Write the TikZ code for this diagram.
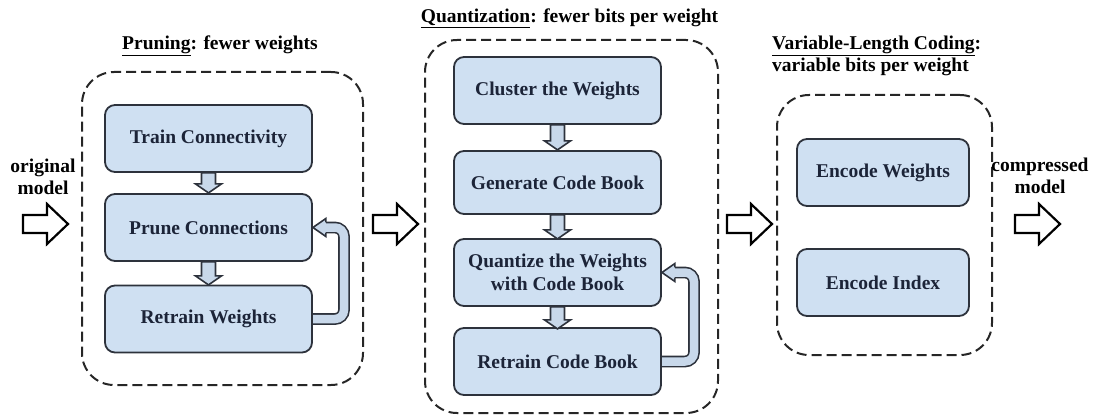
\documentclass[tikz,border=0pt]{standalone}
\usepackage{fontspec}
\setmainfont{Liberation Serif}
\usetikzlibrary{calc}

\definecolor{boxfill}{RGB}{207,224,242}
\definecolor{arrowfill}{RGB}{200,216,234}
\definecolor{edge}{RGB}{45,50,60}
\definecolor{ink}{RGB}{28,36,56}

\tikzset{
  stepbox/.style={draw=edge, line width=1.8pt, fill=boxfill, rounded corners=10pt,
    minimum width=207pt, minimum height=67pt, align=center, text=ink,
    font=\fontsize{19.5}{23}\selectfont\bfseries, inner sep=0pt},
  groupbox/.style={draw=black!85, line width=2pt, dash pattern=on 10pt off 5pt,
    rounded corners=32pt, inner sep=0pt},
  caption/.style={font=\fontsize{19.5}{22.5}\selectfont\bfseries, text=black,
    align=center, inner sep=0pt},
  smallarrow/.style={draw=edge, line width=1.6pt, fill=arrowfill, line join=miter},
  fatarrow/.style={draw=black, line width=2.2pt, fill=white, line join=miter},
  loopbody/.style={draw=edge, line width=1.6pt, double=arrowfill,
    double distance=8.5pt, rounded corners=9pt},
  pics/downarr/.style={code={
    \draw[smallarrow] (-7,0) -- (-7,#1-9) -- (-13,#1-9) -- (0,#1)
      -- (13,#1-9) -- (7,#1-9) -- (7,0) -- cycle;}},
  pics/bigarr/.style={code={
    \draw[fatarrow] (0,-9) -- (24,-9) -- (24,-20) -- (45,0) -- (24,20)
      -- (24,9) -- (0,9) -- cycle;}},
  pics/loophead/.style={code={
    \fill[arrowfill] (0,0) -- (13,-9) -- (13,9) -- cycle;
    \draw[draw=edge, line width=1.6pt, line join=miter]
      (13,-5.1) -- (13,-9) -- (0,0) -- (13,9) -- (13,5.1);}}
}

\begin{document}
\begin{tikzpicture}[x=1pt, y=-1pt]
\useasboundingbox (0,0) rectangle (1093,417);

% stage frames
\node[groupbox, minimum width=281pt, minimum height=313pt] (g1) at (222.5,228.5) {};
\node[groupbox, minimum width=293pt, minimum height=373pt] (g2) at (571.5,226.5) {};
\node[groupbox, minimum width=215pt, minimum height=260pt] (g3) at (884.5,225) {};

% stage titles
\node[caption] (t1) at (220,46) {\underline{Pruning}: fewer weights};
\node[caption] (t2) at (569.5,18) {\underline{Quantization}: fewer bits per weight};
\node[caption, anchor=west, align=left] (t3) at (772,56)
  {\underline{Variable-Length Coding}:\\variable bits per weight};

% input and output labels
\node[caption] (inlab) at (43,177) {original\\model};
\node[caption] (outlab) at (1040,176) {compressed\\model};

% feedback loops (bodies go under the boxes)
\coordinate (rwE) at (313,319);
\coordinate (pcE) at (313,227.5);
\draw[loopbody] (rwE) -- ++(31,0) |- ($(pcE)+(12,0)$);
\coordinate (rcE) at (662,361.5);
\coordinate (qwE) at (662,272.5);
\draw[loopbody] (rcE) -- ++(32,0) |- ($(qwE)+(12,0)$);

% pruning steps
\node[stepbox] (tc) at (208.5,138.5) {Train Connectivity};
\node[stepbox] (pc) at (208.5,227.5) {Prune Connections};
\node[stepbox] (rw) at (208.5,319) {Retrain Weights};

% quantization steps
\node[stepbox] (cw) at (557.5,90.5) {Cluster the Weights};
\node[stepbox, minimum height=63pt] (gc) at (557.5,182.5) {Generate Code Book};
\node[stepbox] (qw) at (557.5,272.5) {Quantize the Weights\\with Code Book};
\node[stepbox] (rc) at (557.5,361.5) {Retrain Code Book};

% coding steps
\node[stepbox, minimum width=172pt] (ew) at (883,172.5) {Encode Weights};
\node[stepbox, minimum width=172pt] (ei) at (883,282.5) {Encode Index};

% step-to-step arrows
\pic at (tc.south) {downarr=20};
\pic at (pc.south) {downarr=23};
\pic at (cw.south) {downarr=25};
\pic at (gc.south) {downarr=24};
\pic at (qw.south) {downarr=22};

% loop heads
\pic at (pc.east) {loophead};
\pic at (qw.east) {loophead};

% flow between stages
\pic at (23,224) {bigarr};
\pic at (373,224) {bigarr};
\pic at (727,224) {bigarr};
\pic at (1015,224) {bigarr};
\end{tikzpicture}
\end{document}
